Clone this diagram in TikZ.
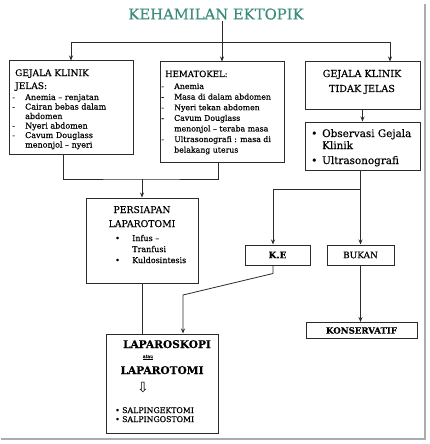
\documentclass[tikz,border=0pt]{standalone}
\usepackage{fontspec}
\setmainfont{DejaVu Serif}[FakeBold=0.35]
\newfontfamily\simbol{DejaVu Sans}
\usetikzlibrary{arrows.meta}
\definecolor{hijau}{HTML}{3B8C7A}
\definecolor{gelap}{HTML}{2B2B2B}
\newcommand{\butir}[1]{\makebox[13pt][l]{-}#1}
\newcommand{\lanjut}{\hspace*{13pt}}

\begin{document}
\begin{tikzpicture}[x=1pt,y=-1pt,>={Stealth[length=5pt,width=4pt]},
  garis/.style={draw=gelap,line width=0.8pt},
  b/.style={draw=gelap,line width=1pt,inner sep=0pt},
  teks/.style={inner sep=0pt,anchor=base west}]
\useasboundingbox (0,0) rectangle (429,444);
% bayangan bingkai
\draw[gray!65,line width=2pt] (425,4) -- (425,439) -- (1,439);

\node[font=\fontsize{14.8}{16}\selectfont,text=hijau,inner sep=1pt] (judul) at (216,14) {KEHAMILAN EKTOPIK};

% kotak
\node[b,minimum width=124pt,minimum height=93pt] (jelas) at (71,107.5) {};
\node[b,minimum width=124pt,minimum height=100pt] (hemat) at (222,112) {};
\node[b,minimum width=115pt,minimum height=47pt] (tidak) at (362.5,85.5) {};
\node[b,minimum width=115pt,minimum height=48pt] (obs) at (362.5,146) {};
\node[b,minimum width=112pt,minimum height=85pt] (persiapan) at (142,240.5) {};
\node[b,minimum width=65pt,minimum height=20pt,font=\bfseries\fontsize{9}{10}\selectfont] (ke) at (277.5,255) {K.E};
\node[b,minimum width=67pt,minimum height=20pt,font=\fontsize{9}{10}\selectfont] (bukan) at (360.5,255) {BUKAN};
\node[b,minimum width=111pt,minimum height=16pt,font=\bfseries\fontsize{8.6}{10}\selectfont] (konservatif) at (361.5,330.5) {KONSERVATIF};
\node[b,minimum width=112pt,minimum height=99pt] (lapar) at (162,383.5) {};

% isi kotak
\node[teks] (jelasIsi) at (12,76) {\parbox[t]{118pt}{\raggedright
  \fontsize{9}{13}\selectfont\hspace*{3pt}GEJALA KLINIK\\\hspace*{3pt}JELAS:\par
  \fontsize{8}{9.5}\selectfont\vspace{1.5pt}
  \butir{Anemia – renjatan}\\
  \butir{Cairan bebas dalam}\\\lanjut abdomen\\
  \butir{Nyeri abdomen}\\
  \butir{Cavum Douglass}\\\lanjut menonjol – nyeri}};
\node[teks] (hematIsi) at (161,77) {\parbox[t]{122pt}{\raggedright
  \fontsize{8.6}{12}\selectfont\hspace*{4pt}HEMATOKEL:\par
  \fontsize{7.8}{10.6}\selectfont\vspace{1.4pt}
  \butir{Anemia}\\
  \butir{Masa di dalam abdomen}\\
  \butir{Nyeri tekan abdomen}\\
  \butir{Cavum Douglass}\\\lanjut menonjol – teraba masa\\
  \butir{Ultrasonografi : masa di}\\\lanjut belakang uterus}};
\node[teks,anchor=base] (tidakIsi) at (362,77) {\parbox[t]{112pt}{\centering
  \fontsize{9.6}{15}\selectfont GEJALA KLINIK\\TIDAK JELAS}};
\node[teks] (obsIsi) at (311,137) {\parbox[t]{110pt}{\raggedright
  \fontsize{10.4}{12}\selectfont\makebox[11pt][l]{•}Observasi Gejala\\\hspace*{11pt}Klinik\par
  \vspace{3pt}\makebox[11pt][l]{•}Ultrasonografi}};
\node[teks,anchor=base] (persiapanJudul) at (142,213) {\parbox[t]{110pt}{\centering
  \fontsize{9.3}{14}\selectfont PERSIAPAN\\LAPAROTOMI}};
\node[teks] (persiapanIsi) at (115,241) {\parbox[t]{82pt}{\raggedright
  \fontsize{8}{11}\selectfont\makebox[17pt][l]{•}Infus –\\\hspace*{17pt}Tranfusi\\
  \makebox[17pt][l]{•}Kuldosintesis}};
\node[teks,anchor=base,font=\bfseries\fontsize{10.6}{12}\selectfont] (laparoskopi) at (167,348) {LAPAROSKOPI};
\node[teks,anchor=base,font=\fontsize{4.5}{5}\selectfont] (atau) at (148,358) {\underline{atau}};
\node[teks,anchor=base,font=\bfseries\fontsize{10.6}{12}\selectfont] (laparotomi) at (162,374) {LAPAROTOMI};
\node[font=\simbol\fontsize{14}{14}\selectfont,inner sep=0pt] (panah) at (143,388) {⇩};
\node[teks] (tindakan) at (115,413) {\parbox[t]{100pt}{\raggedright
  \fontsize{7.8}{9}\selectfont\makebox[7pt][l]{•}SALPINGEKTOMI\\\makebox[7pt][l]{•}SALPINGOSTOMI}};

% garis penghubung
\coordinate (cabang) at (222,42);
\coordinate (gabung) at (142,179);
\coordinate (pisah) at (360.5,189);
\coordinate (tekuk) at (183,295);
\draw[garis] (judul.south -| cabang) -- (cabang);
\draw[garis,->] (cabang) -| (jelas.north);
\draw[garis,->] (cabang) -- (hemat.north);
\draw[garis,->] (cabang) -| ([xshift=27.5pt]tidak.north);
\draw[garis,->] (tidak.south) -- (obs.north);
\draw[garis,->] (obs.south -| bukan) -- (bukan.north);
\draw[garis,->] (pisah) -| ([xshift=-4.5pt]ke.north);
\draw[garis,->] (bukan.south) -- (bukan.south |- konservatif.north);
\draw[garis] ([xshift=-8pt]jelas.south) |- (gabung) -| ([xshift=-4pt]hemat.south);
\draw[garis,->] (gabung) -- (persiapan.north);
\draw[garis] (persiapan.south) -- (persiapan.south |- lapar.north);
\draw[garis,->] ([xshift=-4.5pt]ke.south) -- ++(0,8) -- (tekuk) -- (tekuk |- lapar.north);
\end{tikzpicture}
\end{document}
